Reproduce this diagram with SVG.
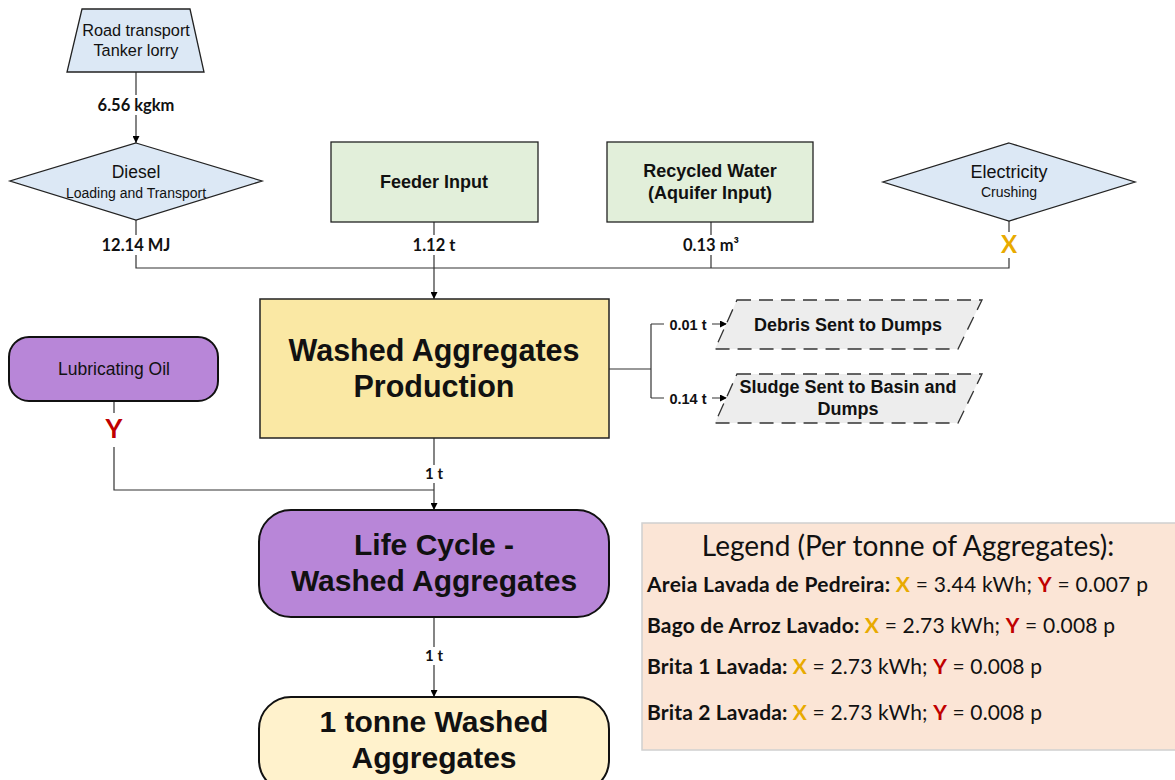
<svg xmlns="http://www.w3.org/2000/svg" width="1175" height="780" viewBox="0 0 1175 780">
<defs>
<marker id="arr" viewBox="0 0 10 10" refX="10" refY="5" markerWidth="7" markerHeight="7" markerUnits="userSpaceOnUse" orient="auto">
<path d="M0,0 L10,5 L0,10 z" fill="#000"/>
</marker>
<style>
.ln{fill:none;stroke:#333;stroke-width:1.2}
.sh{font-family:"Liberation Sans",Arial,sans-serif;fill:#111;text-anchor:middle}
.lb{font-family:Lato,"Open Sans",sans-serif;font-weight:bold;font-size:16.5px;fill:#111;text-anchor:middle}
.lba{font-family:"Liberation Sans",Arial,sans-serif;font-weight:bold;font-size:14.5px;fill:#111;text-anchor:middle}
.bg{fill:#fff}
.blue{fill:#DCE8F5;stroke:#222;stroke-width:1.3}
.green{fill:#E2EFDA;stroke:#222;stroke-width:1.3}
.purple{fill:#B886D8;stroke:#111;stroke-width:2}
.dash{fill:#EDEDED;stroke:#333;stroke-width:1.3;stroke-dasharray:14 8}
.lg{font-family:Lato,"Open Sans",sans-serif;font-size:21px;fill:#111}
.X{fill:#E8AA00;font-weight:bold}
.Y{fill:#C00000;font-weight:bold}
</style>
</defs>
<rect width="1175" height="780" fill="#fff"/>

<g id="connectors">
<path class="ln" d="M136,72 V143" marker-end="url(#arr)"/>
<path class="ln" d="M136,220 V268 H1009 V221"/>
<path class="ln" d="M434,222 V268"/>
<path class="ln" d="M711,222 V268"/>
<path class="ln" d="M434,268 V299" marker-end="url(#arr)"/>
<path class="ln" d="M609,369 H651"/>
<path class="ln" d="M651,324 V398"/>
<path class="ln" d="M651,324 H727" marker-end="url(#arr)"/>
<path class="ln" d="M651,398 H727" marker-end="url(#arr)"/>
<path class="ln" d="M434,438 V510" marker-end="url(#arr)"/>
<path class="ln" d="M114,401 V490 H434"/>
<path class="ln" d="M434,617 V697" marker-end="url(#arr)"/>
<rect class="bg" x="92" y="95" width="88" height="20"/>
<text class="lb" x="136" y="111">6.56 kgkm</text>
<rect class="bg" x="98" y="235" width="76" height="20"/>
<text class="lb" x="136" y="251">12.14 MJ</text>
<rect class="bg" x="410" y="235" width="48" height="20"/>
<text class="lb" x="434" y="251">1.12 t</text>
<rect class="bg" x="674" y="235" width="74" height="20"/>
<text class="lb" x="711" y="251">0.13 m³</text>
<rect class="bg" x="996" y="232" width="26" height="26"/>
<text x="1009" y="253" font-family="Lato,'Open Sans',sans-serif" font-weight="bold" font-size="24" fill="#E8AA00" text-anchor="middle">X</text>
<rect class="bg" x="101" y="413" width="26" height="34"/>
<text x="114" y="438" font-family="Lato,'Open Sans',sans-serif" font-weight="bold" font-size="26" fill="#C00000" text-anchor="middle">Y</text>
<rect class="bg" x="664" y="315" width="48" height="18"/>
<text class="lba" x="688" y="330">0.01 t</text>
<rect class="bg" x="664" y="389" width="48" height="18"/>
<text class="lba" x="688" y="404">0.14 t</text>
<rect class="bg" x="420" y="465" width="28" height="18"/>
<text class="lb" x="434" y="479" style="font-size:15px">1 t</text>
<rect class="bg" x="420" y="647" width="28" height="18"/>
<text class="lb" x="434" y="661" style="font-size:15px">1 t</text>
</g>

<g id="road-transport">
<polygon class="blue" points="82,9 190,9 204,72 67,72"/>
<text class="sh" x="136" y="36" font-size="16.3">Road transport</text>
<text class="sh" x="136" y="56" font-size="16.3">Tanker lorry</text>
</g>

<g id="diesel">
<polygon class="blue" points="136,143 262,181 136,220 10,181"/>
<text class="sh" x="136" y="178" font-size="17.5">Diesel</text>
<text class="sh" x="136" y="198" font-size="14">Loading and Transport</text>
</g>

<g id="feeder-input">
<rect class="green" x="331" y="142" width="207" height="80"/>
<text class="sh" x="434" y="188" font-size="18" font-weight="bold">Feeder Input</text>
</g>

<g id="recycled-water">
<rect class="green" x="607" y="142" width="206" height="80"/>
<text class="sh" x="710" y="177" font-size="18" font-weight="bold">Recycled Water</text>
<text class="sh" x="710" y="199" font-size="18" font-weight="bold">(Aquifer Input)</text>
</g>

<g id="electricity">
<polygon class="blue" points="1009,143 1135,182 1009,221 883,182"/>
<text class="sh" x="1009" y="178" font-size="18">Electricity</text>
<text class="sh" x="1009" y="197" font-size="14">Crushing</text>
</g>

<g id="production">
<rect x="260" y="299" width="349" height="139" fill="#FAE8A4" stroke="#222" stroke-width="1.5"/>
<text class="sh" x="434" y="361" font-size="30.5" font-weight="bold">Washed Aggregates</text>
<text class="sh" x="434" y="397" font-size="30.5" font-weight="bold">Production</text>
</g>

<g id="debris">
<polygon class="dash" points="737,300 982,300 958,349 715,349"/>
<text class="sh" x="848" y="331" font-size="18" font-weight="bold">Debris Sent to Dumps</text>
</g>

<g id="sludge">
<polygon class="dash" points="737,374 982,374 958,423 715,423"/>
<text class="sh" x="848" y="393" font-size="18" font-weight="bold">Sludge Sent to Basin and</text>
<text class="sh" x="848" y="415" font-size="18" font-weight="bold">Dumps</text>
</g>

<g id="lubricating-oil">
<rect class="purple" x="9" y="337" width="209" height="64" rx="20"/>
<text class="sh" x="114" y="375" font-size="17.5">Lubricating Oil</text>
</g>

<g id="life-cycle">
<rect class="purple" x="259" y="510" width="350" height="107" rx="32"/>
<text class="sh" x="434" y="555" font-size="30" font-weight="bold">Life Cycle -</text>
<text class="sh" x="434" y="591" font-size="30" font-weight="bold">Washed Aggregates</text>
</g>

<g id="final-product">
<rect x="259" y="697" width="350" height="95" rx="32" fill="#FFF2CC" stroke="#111" stroke-width="2"/>
<text class="sh" x="434" y="732" font-size="30" font-weight="bold">1 tonne Washed</text>
<text class="sh" x="434" y="768" font-size="30" font-weight="bold">Aggregates</text>
</g>

<g id="legend">
<rect x="642" y="523" width="540" height="227" fill="#FBE5D6" stroke="#D0D0D0" stroke-width="1.5"/>
<text x="908" y="556" font-family="Lato,'Open Sans',sans-serif" font-size="28" fill="#111" text-anchor="middle">Legend (Per tonne of Aggregates):</text>
<text class="lg" x="647" y="592" textLength="501" lengthAdjust="spacing"><tspan font-weight="bold">Areia Lavada de Pedreira: </tspan><tspan class="X">X</tspan> = 3.44 kWh; <tspan class="Y">Y</tspan> = 0.007 p</text>
<text class="lg" x="647" y="633" textLength="468" lengthAdjust="spacing"><tspan font-weight="bold">Bago de Arroz Lavado: </tspan><tspan class="X">X</tspan> = 2.73 kWh; <tspan class="Y">Y</tspan> = 0.008 p</text>
<text class="lg" x="647" y="674" textLength="395" lengthAdjust="spacing"><tspan font-weight="bold">Brita 1 Lavada: </tspan><tspan class="X">X</tspan> = 2.73 kWh; <tspan class="Y">Y</tspan> = 0.008 p</text>
<text class="lg" x="647" y="720" textLength="395" lengthAdjust="spacing"><tspan font-weight="bold">Brita 2 Lavada: </tspan><tspan class="X">X</tspan> = 2.73 kWh; <tspan class="Y">Y</tspan> = 0.008 p</text>
</g>
</svg>
